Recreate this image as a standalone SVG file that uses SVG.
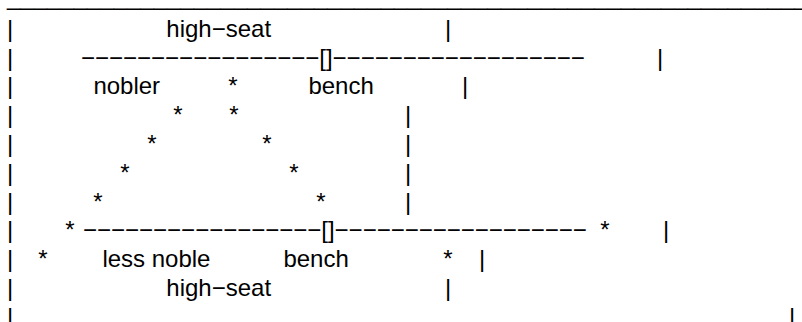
<svg xmlns="http://www.w3.org/2000/svg" width="802" height="322" viewBox="0 0 802 322">
  <style>
    text { font-family: "Liberation Sans", Arial, sans-serif; font-size: 24px; fill: #000; white-space: pre; }
  </style>
  <rect width="802" height="322" fill="#fff"/>

  <!-- top rule -->
  <g id="rule">
    <text x="7" y="5">____________________________________________________________</text>
  </g>

  <!-- left border pipes -->
  <g id="left-border">
    <text x="7" y="36.7">|</text>
    <text x="7" y="65.5">|</text>
    <text x="7" y="94.3">|</text>
    <text x="7" y="123.1">|</text>
    <text x="7" y="151.9">|</text>
    <text x="7" y="180.7">|</text>
    <text x="7" y="209.5">|</text>
    <text x="7" y="238.3">|</text>
    <text x="7" y="267.1">|</text>
    <text x="7" y="295.9">|</text>
    <text x="7" y="324.7">|</text>
  </g>

  <!-- upper bench -->
  <g id="upper-bench">
    <text x="166.3" y="36.7">high−seat</text>
    <text x="445" y="36.7">|</text>
    <text x="81" y="65.5">−−−−−−−−−−−−−−−−−[]−−−−−−−−−−−−−−−−−−</text>
    <text x="657" y="65.5">|</text>
    <text x="93.4" y="94.3">nobler</text>
    <text x="308.4" y="94.3">bench</text>
    <text x="462" y="94.3">|</text>
  </g>

  <!-- star outline -->
  <g id="stars">
    <text x="228.3" y="94.3">*</text>
    <text x="173.3" y="123.1">*</text>
    <text x="229.3" y="123.1">*</text>
    <text x="147.3" y="151.9">*</text>
    <text x="262.3" y="151.9">*</text>
    <text x="120.3" y="180.7">*</text>
    <text x="289.3" y="180.7">*</text>
    <text x="93.3" y="209.5">*</text>
    <text x="316.3" y="209.5">*</text>
    <text x="65.3" y="238.3">*</text>
    <text x="600.3" y="238.3">*</text>
    <text x="38.3" y="267.1">*</text>
    <text x="443.3" y="267.1">*</text>
  </g>

  <!-- inner pipes -->
  <g id="inner-pipes">
    <text x="405" y="123.1">|</text>
    <text x="405" y="151.9">|</text>
    <text x="405" y="180.7">|</text>
    <text x="405" y="209.5">|</text>
  </g>

  <!-- lower bench -->
  <g id="lower-bench">
    <text x="83" y="238.3">−−−−−−−−−−−−−−−−−[]−−−−−−−−−−−−−−−−−−</text>
    <text x="663" y="238.3">|</text>
    <text x="102.4" y="267.1">less noble</text>
    <text x="283.4" y="267.1">bench</text>
    <text x="479" y="267.1">|</text>
    <text x="166.3" y="295.9">high−seat</text>
    <text x="445" y="295.9">|</text>
    <text x="789" y="324.7">|</text>
  </g>
</svg>
